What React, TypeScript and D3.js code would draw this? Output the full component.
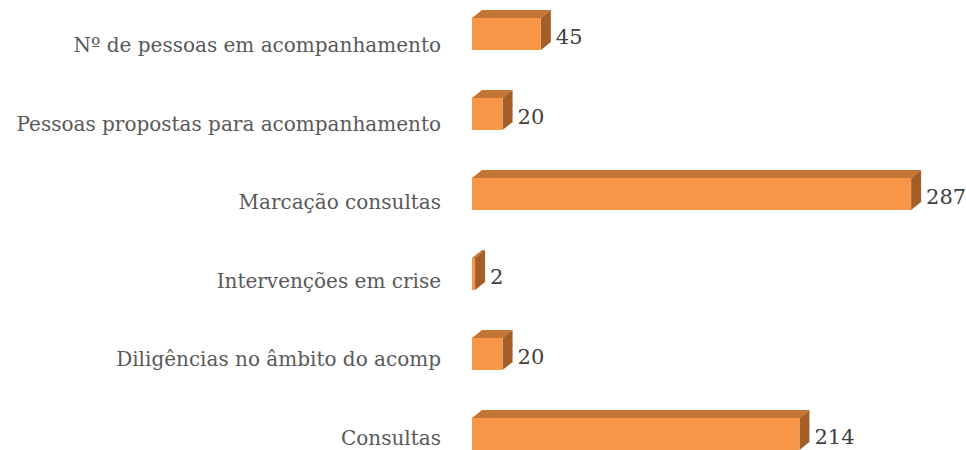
import React from 'react';
import * as d3 from 'd3';

// categories top to bottom
const categories = [
    'Nº de pessoas em acompanhamento',
    'Pessoas propostas para acompanhamento',
    'Marcação consultas',
    'Intervenções em crise',
    'Diligências no âmbito do acomp',
    'Consultas',
];
const values = [45, 20, 287, 2, 20, 214];

const width = 966, height = 450;
const barHeight = 32;
const depthX = 10, depthY = 8;
const fontFamily = '"DejaVu Serif", Cambria, serif';

export default function App() {
    const x = d3.scaleLinear().domain([0, 300]).range([472, 931]);
    const y = d3.scalePoint<string>().domain(categories).range([34, 434]);

    return (
        <svg width={width} height={height} style={{position: 'absolute', left: 0, top: 0}}>
            {categories.map((c, i) => {
                const cy = y(c) as number;
                const x0 = x(0), x1 = x(values[i]);
                const top = cy - barHeight / 2, bot = cy + barHeight / 2;
                // labels sit a bit lower on the upper rows (perspective of the 3d floor)
                const labelDy = 18 - i * 1.4;
                return (
                    <g key={c}>
                        <text x={441} y={cy + labelDy} textAnchor="end" fontFamily={fontFamily}
                            fontSize={20} fill="#595959">{c}</text>
                        {/* top face */}
                        <polygon
                            points={`${x0},${top} ${x0 + depthX},${top - depthY} ${x1 + depthX},${top - depthY} ${x1},${top}`}
                            fill="#c27535" />
                        {/* side face */}
                        <polygon
                            points={`${x1},${top} ${x1 + depthX},${top - depthY} ${x1 + depthX},${bot - depthY} ${x1},${bot}`}
                            fill="#a35e2a" />
                        {/* front face */}
                        <rect x={x0} y={top} width={x1 - x0} height={barHeight} fill="#f79646" />
                        <text x={x1 + depthX + 5} y={cy + 10} fontFamily={fontFamily}
                            fontSize={21} fill="#404040">{values[i]}</text>
                    </g>
                );
            })}
        </svg>
    );
}
